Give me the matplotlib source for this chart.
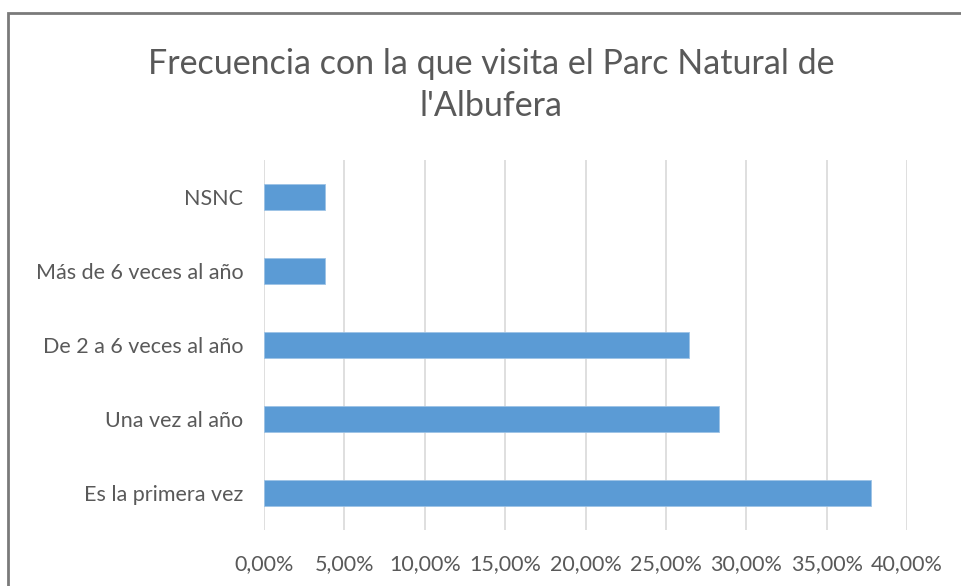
import matplotlib.pyplot as plt
from matplotlib.patches import Rectangle
from matplotlib.ticker import FuncFormatter

categories = ['Es la primera vez', 'Una vez al año', 'De 2 a 6 veces al año',
              'Más de 6 veces al año', 'NSNC']
values = [37.74, 28.30, 26.42, 3.77, 3.77]
ticks = [0, 5, 10, 15, 20, 25, 30, 35, 40]
title = "Frecuencia con la que visita el Parc Natural de\nl'Albufera"

plt.rcParams['font.family'] = ['Lato', 'DejaVu Sans']
txt = '#595959'

fig = plt.figure(figsize=(9.62, 5.86), dpi=100)
ax = fig.add_axes([264 / 962, 1 - 530 / 586, (907 - 264) / 962, (530 - 160) / 586])

ax.barh(range(len(categories)), values, height=0.35, color='#5b9bd5',
        edgecolor='#9dc3e6', linewidth=0.6, zorder=3)
ax.set_yticks(range(len(categories)))
ax.set_yticklabels(categories)
ax.set_ylim(-0.5, len(categories) - 0.5)
ax.set_xlim(0, 40)
ax.set_xticks(ticks)
ax.xaxis.set_major_formatter(FuncFormatter(lambda v, p: '{:.2f}%'.format(v).replace('.', ',')))
ax.grid(axis='x', color='#d9d9d9', linewidth=1.2, zorder=0)
for s in ax.spines.values():
	s.set_visible(False)
ax.tick_params(length=0, labelsize=15.5, colors=txt)
ax.tick_params(axis='x', pad=17)
ax.tick_params(axis='y', pad=15)

fig.text(491 / 962, 1 - 85 / 586, title, ha='center', va='center',
         fontsize=24.5, color=txt, linespacing=1.35)

fig.add_artist(Rectangle((8 / 962, -0.1), 1.1, 1 - 13 / 586 + 0.1,
                         transform=fig.transFigure, fill=False,
                         edgecolor='#7a7a7a', linewidth=2))

fig.savefig('out.png', dpi=100)
